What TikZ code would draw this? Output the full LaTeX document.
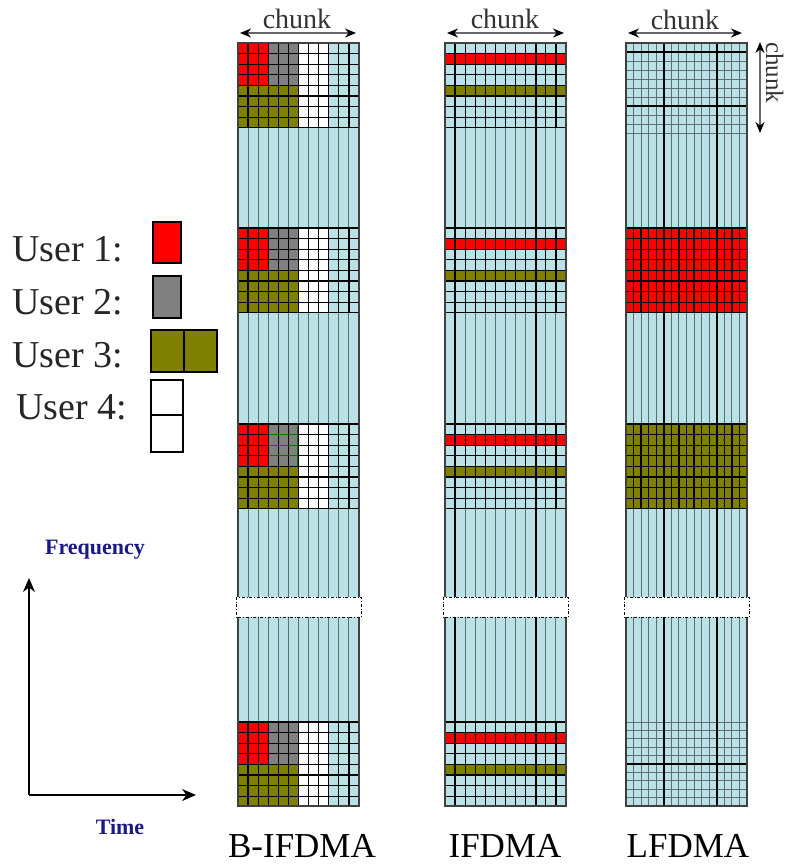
\documentclass[tikz,border=0pt]{standalone}
\usepackage{fontspec}
\setmainfont{Liberation Serif}
\usetikzlibrary{arrows.meta, positioning}

\definecolor{cellblue}{RGB}{185,225,230}
\definecolor{linegrey}{RGB}{95,110,112}
\definecolor{userred}{RGB}{255,0,0}
\definecolor{usergrey}{RGB}{128,128,128}
\definecolor{userolive}{RGB}{128,128,0}
\definecolor{axisblue}{RGB}{25,25,135}

\begin{document}
\begin{tikzpicture}[x=1pt, y=-1pt,
        gridline/.style={draw=linegrey, line width=1pt},
        cellline/.style={draw=black, line width=1.3pt},
        thickline/.style={draw=black, line width=2pt},
        frame/.style={draw=black!75, line width=1.2pt},
        gap/.style={draw=black, fill=white, dash dot, line width=1pt},
        span/.style={arrows={Stealth[length=11pt,width=9pt,color=black]-Stealth[length=11pt,width=9pt,color=black]}, draw=black!60, line width=1.8pt},
        axis/.style={-{Stealth[length=14pt,width=12pt]}, line width=1.6pt},
        chunklbl/.style={font=\fontsize{28}{30}\selectfont, text=black!80, inner sep=0pt, anchor=base},
        usertext/.style={font=\fontsize{38}{40}\selectfont, text=black!85, anchor=base west, inner sep=0pt},
        legbox/.style={draw=black, line width=1.5pt, inner sep=0pt, outer sep=0pt},
        schemelbl/.style={font=\fontsize{35}{37}\selectfont, anchor=base, inner sep=0pt},
        axislbl/.style={font=\bfseries\fontsize{22}{24}\selectfont, text=axisblue, inner sep=0pt}
    ]
    \path[use as bounding box, fill=white] (0,0) rectangle (788,865);
%
    % Columns (background and subcarrier lines)
    \foreach \cx/\n in {238/12, 445/12, 626/16} {
        \pgfmathsetmacro{\w}{121/\n}
        \fill[cellblue] (\cx,43) rectangle ++(121,763);
        \foreach \k in {1,...,\n}
            \draw[gridline] (\cx+\k*\w,43) -- ++(0,763);
    }
%
    % B-IFDMA blocks
    \foreach \t in {43,228,424,722} {
        \fill[userred] (238,\t) rectangle ++(30.25,42.4);
        \fill[usergrey] (268.25,\t) rectangle ++(30.25,42.4);
        \fill[userolive] (238,\t+42.4) rectangle ++(60.5,42.4);
        \fill[white] (298.5,\t) rectangle ++(30.25,84.8);
        \foreach \r in {0,...,8}
            \draw[cellline] (238,\t+\r*10.6) -- ++(121,0);
        \foreach \k in {0,...,12}
            \draw[cellline] (238+\k*10.0833,\t) -- ++(0,84.8);
    }
    \foreach \r in {1,2,3}
        \draw[green!45!black, line width=0.8pt] (269,424+\r*10.6) -- ++(28.5,0);
    \draw[green!45!black, line width=0.8pt] (297.5,426) -- ++(0,40);
%
    % IFDMA blocks
    \foreach \t in {43,228,424,722} {
        \fill[userred] (445,\t+10.6) rectangle ++(121,10.6);
        \fill[userolive] (445,\t+42.4) rectangle ++(121,10.6);
        \foreach \r in {0,...,8}
            \draw[cellline] (445,\t+\r*10.6) -- ++(121,0);
        \foreach \k in {0,...,12}
            \draw[cellline] (445+\k*10.0833,\t) -- ++(0,84.8);
    }
    \foreach \k in {1,9}
        \draw[thickline] (445+\k*10.0833,43) -- ++(0,763);
%
    % LFDMA blocks
    \fill[userred] (626,228) rectangle ++(121,84.8);
    \fill[userolive] (626,424) rectangle ++(121,84.8);
    \foreach \t/\h/\n/\sty in {43/9/10/gridline, 228/10.6/8/cellline, 424/10.6/8/cellline, 722/8.4/10/gridline} {
        \foreach \r in {0,...,\n}
            \draw[\sty] (626,\t+\r*\h) -- ++(121,0);
        \foreach \k in {0,...,16}
            \draw[\sty] (626+\k*7.5625,\t) -- ++(0,\n*\h);
    }
    \foreach \y in {52,106,764}
        \draw[thickline] (626,\y) -- ++(121,0);
    \foreach \k in {5,12}
        \draw[thickline] (626+\k*7.5625,43) -- ++(0,763);
%
    % Frames and break marks
    \foreach \cx in {238,445,626} {
        \draw[frame] (\cx,43) rectangle ++(121,763);
        \draw[gap] (\cx-2,597) rectangle ++(125,20);
    }
%
    % Chunk spans
    \coordinate (bif-l) at (240,33);
    \coordinate (bif-r) at (356,33);
    \coordinate (ifd-l) at (447,33);
    \coordinate (ifd-r) at (564,33);
    \coordinate (lfd-l) at (628,33);
    \coordinate (lfd-r) at (742,33);
    \coordinate (lfd-t) at (760,42);
    \coordinate (lfd-b) at (760,133);
    \draw[span] (bif-l) -- (bif-r);
    \draw[span] (ifd-l) -- (ifd-r);
    \draw[span] (lfd-l) -- (lfd-r);
    \draw[span] (lfd-t) -- (lfd-b);
    \node[chunklbl] (bif-chunk) at (297,28) {chunk};
    \node[chunklbl] (ifd-chunk) at (505,28) {chunk};
    \node[chunklbl] (lfd-chunk) at (685,29) {chunk};
    \node[chunklbl, font=\fontsize{25}{27}\selectfont, rotate=-90, anchor=base west] (lfd-vchunk) at (766,42) {chunk};
%
    % Legend
    \node[usertext] (user1) at (12,261) {User 1:};
    \node[usertext] (user2) at (12,314) {User 2:};
    \node[usertext] (user3) at (12,367) {User 3:};
    \node[usertext] (user4) at (16,419) {User 4:};
    \node[legbox, fill=userred, minimum width=28pt, minimum height=41pt] (key1) at (167,242.5) {};
    \node[legbox, fill=usergrey, minimum width=28pt, minimum height=42pt] (key2) at (167,297) {};
    \node[legbox, fill=userolive, minimum width=33pt, minimum height=42pt] (key3a) at (167.5,351) {};
    \node[legbox, fill=userolive, minimum width=33pt, minimum height=42pt, right=0pt of key3a] (key3b) {};
    \node[legbox, fill=white, minimum width=32pt, minimum height=35pt] (key4a) at (167,397.5) {};
    \node[legbox, fill=white, minimum width=32pt, minimum height=37pt, below=0pt of key4a] (key4b) {};
%
    % Axes
    \coordinate (origin) at (29,795);
    \coordinate (freqtip) at (29,578);
    \coordinate (timetip) at (196,795);
    \draw[axis] (origin) -- (freqtip);
    \draw[axis] (origin) -- (timetip);
    \node[axislbl] (freq) at (95,550) {Frequency};
    \node[axislbl] (time) at (120,827) {Time};
%
    % Scheme names
    \node[schemelbl] (bif-name) at (302,857) {B-IFDMA};
    \node[schemelbl] (ifd-name) at (505,857) {IFDMA};
    \node[schemelbl] (lfd-name) at (688,857) {LFDMA};
%
\end{tikzpicture}
\end{document}
